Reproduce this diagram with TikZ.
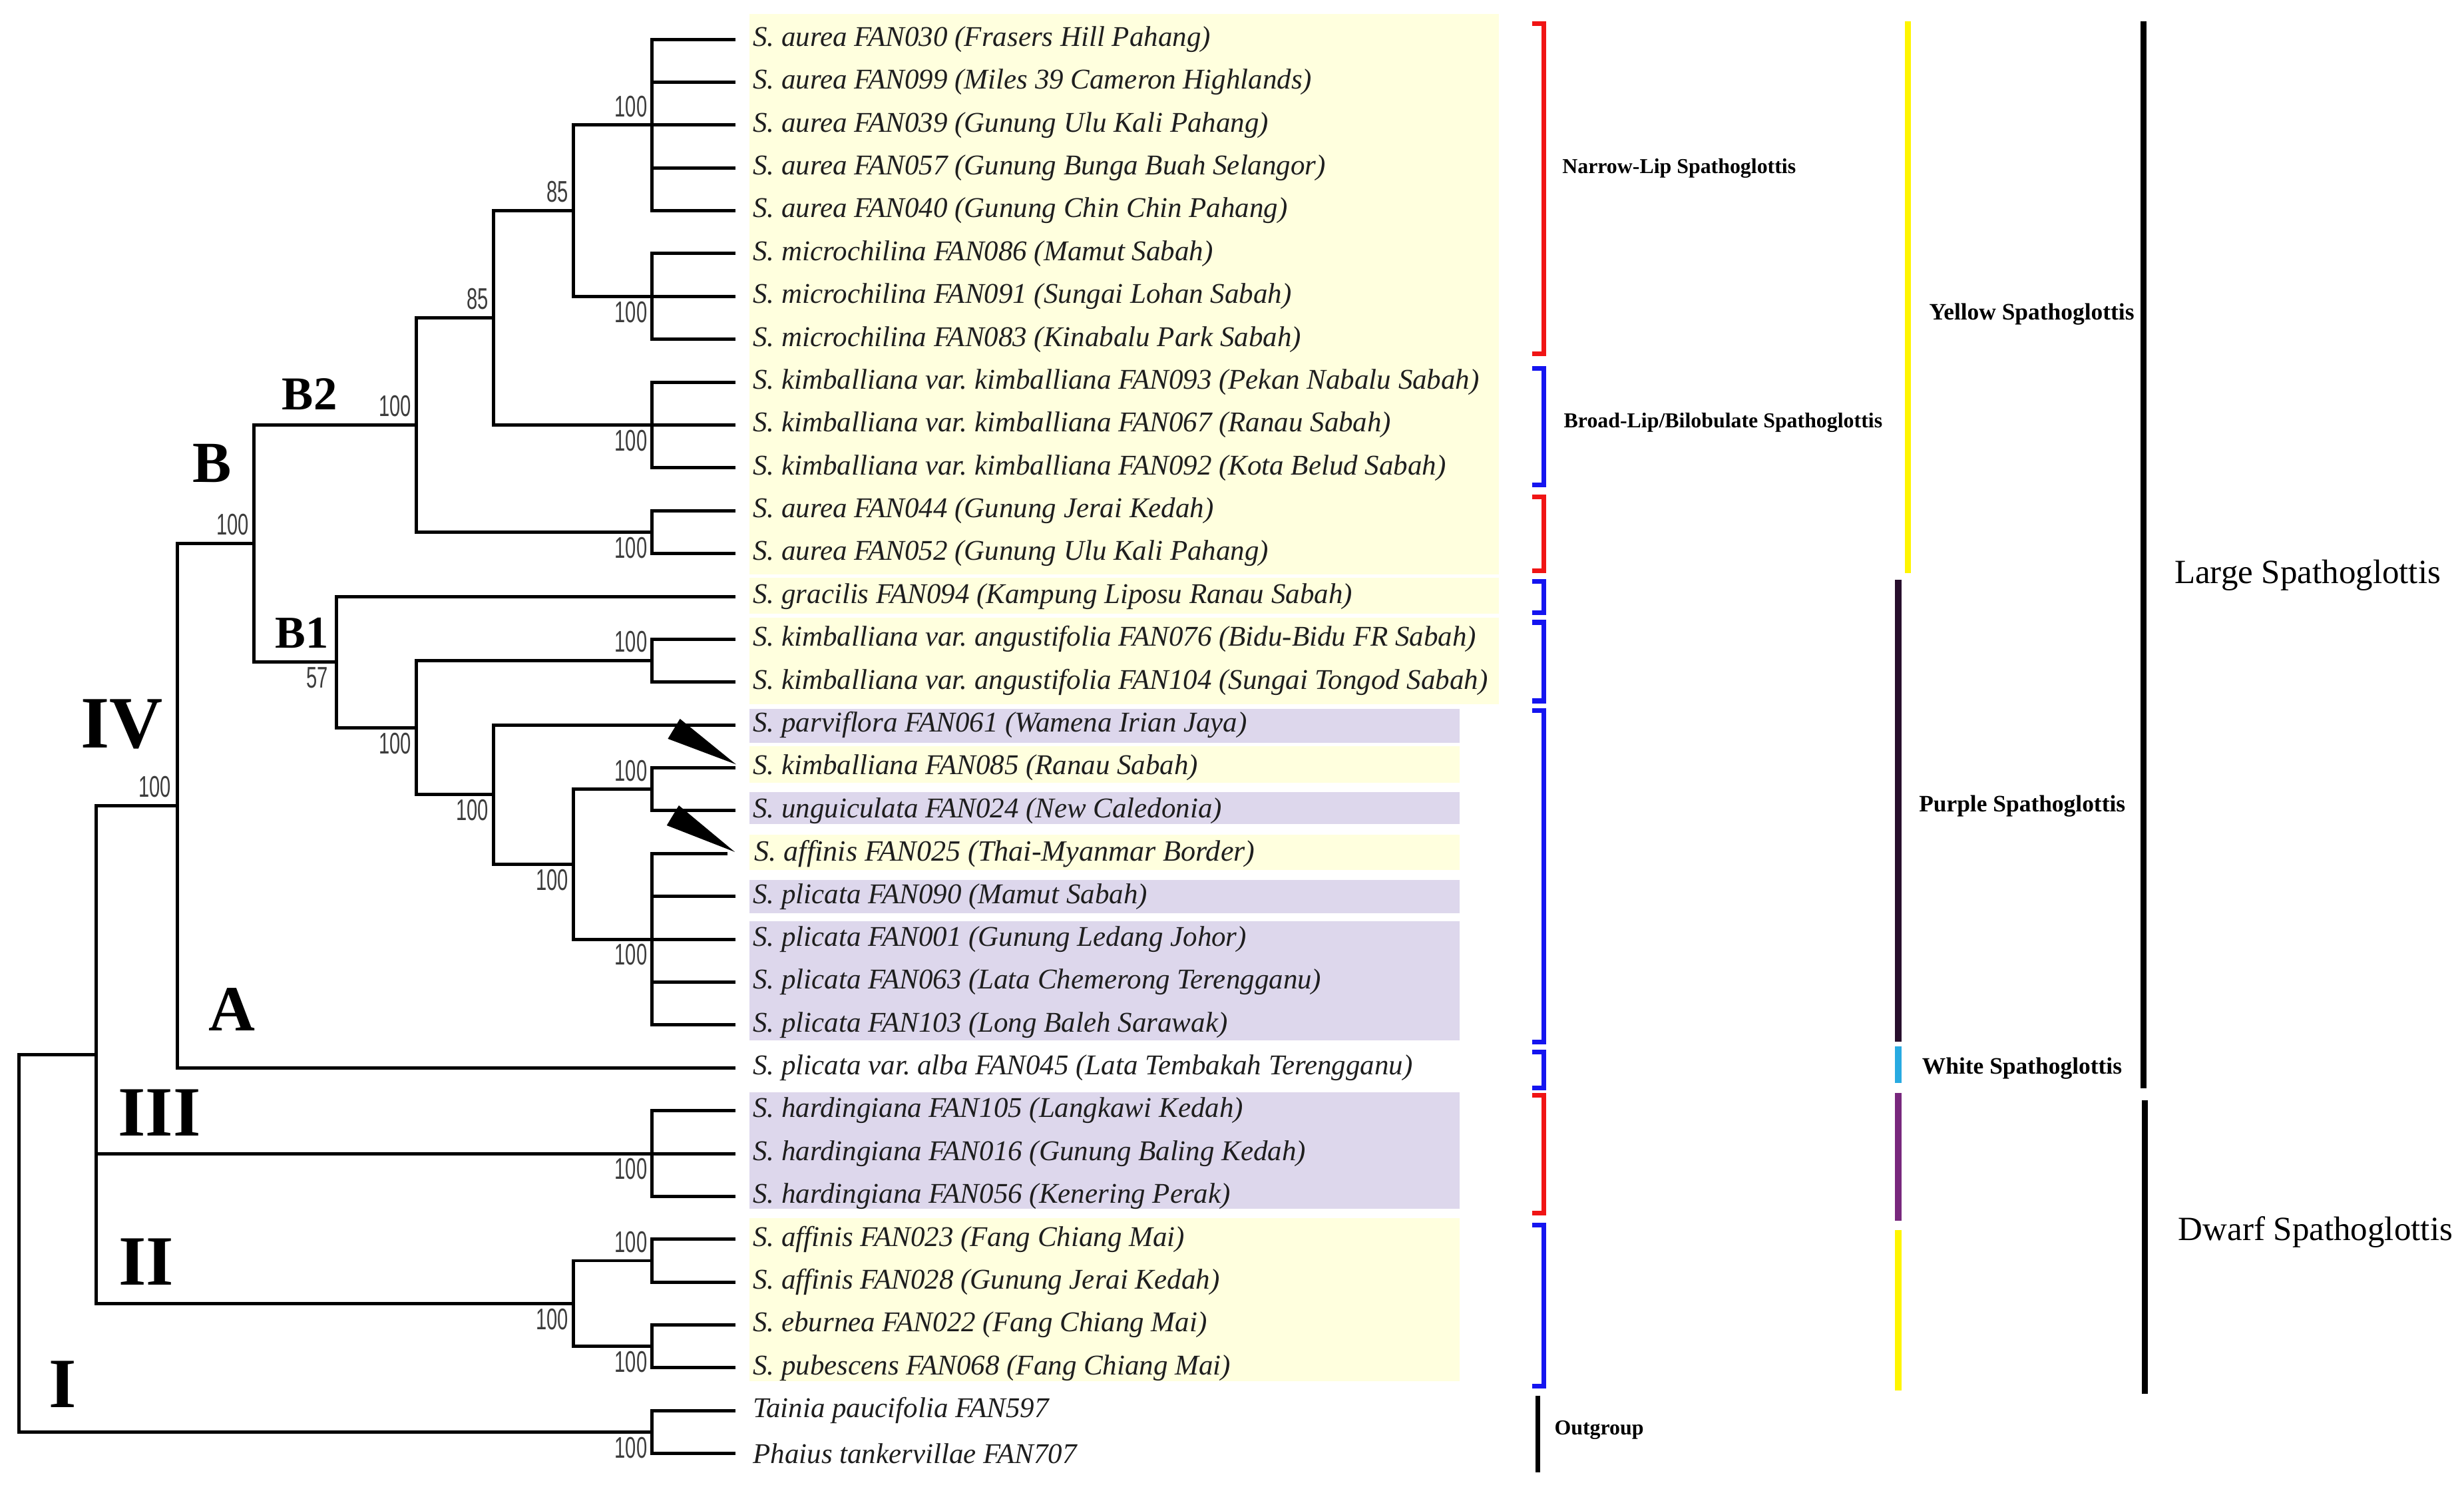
\documentclass[tikz,border=0pt]{standalone}
\usepackage{fontspec}
\setmainfont{Liberation Serif}
\newfontfamily\bsfont{Liberation Sans}[FakeStretch=0.65]
\usetikzlibrary{calc}
\definecolor{boxy}{RGB}{255,255,222}
\definecolor{boxp}{RGB}{221,215,236}
\definecolor{leafc}{RGB}{30,30,30}
\definecolor{bsc}{RGB}{60,60,60}
\definecolor{bred}{RGB}{240,20,20}
\definecolor{bblue}{RGB}{20,20,240}
\definecolor{lyel}{RGB}{255,245,0}
\definecolor{ldpur}{RGB}{40,15,45}
\definecolor{lcyan}{RGB}{40,170,225}
\definecolor{lpur}{RGB}{120,40,125}
\newcommand\RY[1]{25+(#1-1)*27.27}
\frenchspacing
\begin{document}
\begin{tikzpicture}[x=1pt,y=-1pt,
  branch/.style={line width=2.1pt, line cap=rect},
  leafname/.style={anchor=west, inner sep=0pt, text=leafc, font=\fontsize{18.2}{20}\selectfont\itshape},
  bs/.style={inner sep=0pt, text=bsc, font=\bsfont\fontsize{19}{19}\selectfont},
  bsa/.style={bs, anchor=south east},
  bsb/.style={bs, anchor=north east},
  clade/.style={inner sep=0pt, font=\bfseries\fontsize{#1}{#1}\selectfont},
  brk/.style={line width=3pt},
  cline/.style={line width=4pt},
  labs/.style={anchor=west, inner sep=0pt, font=\bfseries\fontsize{13.5}{15}\selectfont},
  labm/.style={anchor=west, inner sep=0pt, font=\bfseries\fontsize{15}{17}\selectfont},
  labl/.style={anchor=west, inner sep=0pt, font=\fontsize{21.6}{24}\selectfont}]
\useasboundingbox (0,0) rectangle (1568,945.8);
% background boxes
\fill[boxy] (477,9) rectangle (954,365.5);
\fill[boxy] (477,367.5) rectangle (954,390.5);
\fill[boxy] (477,393) rectangle (954,448);
\fill[boxp] (477,451) rectangle (929,472.5);
\fill[boxy] (477,475) rectangle (929,498);
\fill[boxp] (477,504) rectangle (929,524.5);
\fill[boxy] (477,531) rectangle (929,553.5);
\fill[boxp] (477,560) rectangle (929,581);
\fill[boxp] (477,586) rectangle (929,662);
\fill[boxp] (477,695) rectangle (929,769);
\fill[boxy] (477,775) rectangle (929,879);
% tips
\foreach \r in {1,...,34} {\coordinate (t\r) at (467,{\RY{\r}});}
\coordinate (t20) at (461.7,{\RY{20}});
% internal nodes
\coordinate (aur5) at (415,{\RY{3}});
\coordinate (mic) at (415,{\RY{7}});
\coordinate (up85) at (365,{\RY{5}});
\coordinate (kim) at (415,{\RY{10}});
\coordinate (lo85) at (314,{\RY{7.5}});
\coordinate (aur2) at (415,{\RY{12.5}});
\coordinate (B2) at (265,{\RY{10}});
\coordinate (ang) at (415,{\RY{15.5}});
\coordinate (pu1) at (415,{\RY{18.5}});
\coordinate (pl) at (415,{\RY{22}});
\coordinate (c365) at (365,{\RY{20.25}});
\coordinate (c314) at (314,{\RY{18.625}});
\coordinate (c265) at (265,{\RY{17.0625}});
\coordinate (B1) at (214,{\RY{15.53125}});
\coordinate (B) at (161.5,{\RY{12.765625}});
\coordinate (IV) at (113,{\RY{18.8828}});
\coordinate (III) at (415,{\RY{27}});
\coordinate (IIa) at (415,{\RY{29.5}});
\coordinate (IIb) at (415,{\RY{31.5}});
\coordinate (II) at (365,{\RY{30.5}});
\coordinate (x61) at (61,{\RY{24.6914}});
\coordinate (out) at (415,{\RY{33.5}});
\coordinate (root) at (12,{\RY{29.0957}});
% branches
\foreach \p/\c in {root/x61, root/out, x61/IV, x61/III, x61/II, IV/B, IV/t25,
  B/B2, B/B1, B2/lo85, B2/aur2, lo85/up85, lo85/kim, up85/aur5, up85/mic,
  aur5/t1, aur5/t2, aur5/t3, aur5/t4, aur5/t5, mic/t6, mic/t7, mic/t8,
  kim/t9, kim/t10, kim/t11, aur2/t12, aur2/t13,
  B1/t14, B1/c265, c265/ang, c265/c314, ang/t15, ang/t16,
  c314/t17, c314/c365, c365/pu1, c365/pl, pu1/t18, pu1/t19,
  pl/t20, pl/t21, pl/t22, pl/t23, pl/t24,
  III/t26, III/t27, III/t28, II/IIa, II/IIb, IIa/t29, IIa/t30, IIb/t31, IIb/t32,
  out/t33, out/t34}
  {\draw[branch] (\p) |- (\c);}
% bootstrap values
\node[bsa] (bs1) at ($(aur5)+(-3,-5)$) {100};
\node[bsa] (bs2) at ($(up85)+(-3,-5)$) {85};
\node[bsa] (bs3) at ($(lo85)+(-3,-5)$) {85};
\node[bsa] (bs4) at ($(B2)+(-3,-5)$) {100};
\node[bsa] (bs5) at ($(B)+(-3,-5)$) {100};
\node[bsa] (bs6) at ($(ang)+(-3,-5)$) {100};
\node[bsa] (bs7) at ($(pu1)+(-3,-5)$) {100};
\node[bsa] (bs8) at ($(IV)+(-4,-5)$) {100};
\node[bsa] (bs9) at ($(IIa)+(-3,-5)$) {100};
\node[bsb] (bs10) at ($(mic)+(-3,3)$) {100};
\node[bsb] (bs11) at ($(kim)+(-3,3)$) {100};
\node[bsb] (bs12) at ($(aur2)+(-3,3)$) {100};
\node[bsb] (bs13) at ($(B1)+(-5,3)$) {57};
\node[bsb] (bs14) at ($(c265)+(-3,3)$) {100};
\node[bsb] (bs15) at ($(c314)+(-3,3)$) {100};
\node[bsb] (bs16) at ($(c365)+(-3,3)$) {100};
\node[bsb] (bs17) at ($(pl)+(-3,3)$) {100};
\node[bsb] (bs18) at ($(III)+(-3,3)$) {100};
\node[bsb] (bs19) at ($(II)+(-3,3)$) {100};
\node[bsb] (bs20) at ($(IIb)+(-3,3)$) {100};
\node[bsb] (bs21) at ($(out)+(-3,3)$) {100};
% clade labels
\node[clade=30] (cB2) at (197,251) {B2};
\node[clade=37] (cB) at (135,295) {B};
\node[clade=29] (cB1) at (192,403) {B1};
\node[clade=47] (cIV) at (77.7,461) {IV};
\node[clade=41] (cA) at (147.5,642.5) {A};
\node[clade=45] (cIII) at (101.5,708) {III};
\node[clade=45] (cII) at (93,803) {II};
\node[clade=45] (cI) at (40,881) {I};
% arrows
\fill[black] (425,470.1) -- (432.7,457.4) -- (468.4,486.4) -- cycle;
\fill[black] (424.3,525.2) -- (432,512.5) -- (467.6,542.1) -- cycle;
% leaf names
\node[leafname] (l1) at (479,{\RY{1}}) {S. aurea FAN030 (Frasers Hill Pahang)};
\node[leafname] (l2) at (479,{\RY{2}}) {S. aurea FAN099 (Miles 39 Cameron Highlands)};
\node[leafname] (l3) at (479,{\RY{3}}) {S. aurea FAN039 (Gunung Ulu Kali Pahang)};
\node[leafname] (l4) at (479,{\RY{4}}) {S. aurea FAN057 (Gunung Bunga Buah Selangor)};
\node[leafname] (l5) at (479,{\RY{5}}) {S. aurea FAN040 (Gunung Chin Chin Pahang)};
\node[leafname] (l6) at (479,{\RY{6}}) {S. microchilina FAN086 (Mamut Sabah)};
\node[leafname] (l7) at (479,{\RY{7}}) {S. microchilina FAN091 (Sungai Lohan Sabah)};
\node[leafname] (l8) at (479,{\RY{8}}) {S. microchilina FAN083 (Kinabalu Park Sabah)};
\node[leafname] (l9) at (479,{\RY{9}}) {S. kimballiana var. kimballiana FAN093 (Pekan Nabalu Sabah)};
\node[leafname] (l10) at (479,{\RY{10}}) {S. kimballiana var. kimballiana FAN067 (Ranau Sabah)};
\node[leafname] (l11) at (479,{\RY{11}}) {S. kimballiana var. kimballiana FAN092 (Kota Belud Sabah)};
\node[leafname] (l12) at (479,{\RY{12}}) {S. aurea FAN044 (Gunung Jerai Kedah)};
\node[leafname] (l13) at (479,{\RY{13}}) {S. aurea FAN052 (Gunung Ulu Kali Pahang)};
\node[leafname] (l14) at (479,{\RY{14}}) {S. gracilis FAN094 (Kampung Liposu Ranau Sabah)};
\node[leafname] (l15) at (479,{\RY{15}}) {S. kimballiana var. angustifolia FAN076 (Bidu-Bidu FR Sabah)};
\node[leafname] (l16) at (479,{\RY{16}}) {S. kimballiana var. angustifolia FAN104 (Sungai Tongod Sabah)};
\node[leafname] (l17) at (479,{\RY{17}}) {S. parviflora FAN061 (Wamena Irian Jaya)};
\node[leafname] (l18) at (479,{\RY{18}}) {S. kimballiana FAN085 (Ranau Sabah)};
\node[leafname] (l19) at (479,{\RY{19}}) {S. unguiculata FAN024 (New Caledonia)};
\node[leafname, font=\fontsize{18.7}{20}\selectfont\itshape] (l20) at (480,{\RY{20}}) {S. affinis FAN025 (Thai-Myanmar Border)};
\node[leafname] (l21) at (479,{\RY{21}}) {S. plicata FAN090 (Mamut Sabah)};
\node[leafname] (l22) at (479,{\RY{22}}) {S. plicata FAN001 (Gunung Ledang Johor)};
\node[leafname] (l23) at (479,{\RY{23}}) {S. plicata FAN063 (Lata Chemerong Terengganu)};
\node[leafname] (l24) at (479,{\RY{24}}) {S. plicata FAN103 (Long Baleh Sarawak)};
\node[leafname] (l25) at (479,{\RY{25}}) {S. plicata var. alba FAN045 (Lata Tembakah Terengganu)};
\node[leafname] (l26) at (479,{\RY{26}}) {S. hardingiana FAN105 (Langkawi Kedah)};
\node[leafname] (l27) at (479,{\RY{27}}) {S. hardingiana FAN016 (Gunung Baling Kedah)};
\node[leafname] (l28) at (479,{\RY{28}}) {S. hardingiana FAN056 (Kenering Perak)};
\node[leafname] (l29) at (479,{\RY{29}}) {S. affinis FAN023 (Fang Chiang Mai)};
\node[leafname] (l30) at (479,{\RY{30}}) {S. affinis FAN028 (Gunung Jerai Kedah)};
\node[leafname] (l31) at (479,{\RY{31}}) {S. eburnea FAN022 (Fang Chiang Mai)};
\node[leafname] (l32) at (479,{\RY{32}}) {S. pubescens FAN068 (Fang Chiang Mai)};
\node[leafname] (l33) at (479,{\RY{33}}) {Tainia paucifolia FAN597};
\node[leafname] (l34) at (479,{\RY{34}}) {Phaius tankervillae FAN707};
% brackets
\foreach \a/\b/\c in {15/225/bred, 234.5/308.6/bblue, 316/363/bred, 370/390/bblue,
  396/446/bblue, 452/663/bblue, 669.5/692.4/bblue, 697/772/bred, 779.6/882/bblue}
  {\draw[brk, \c] (975,\a) -- (982.5,\a) -- (982.5,\b) -- (975,\b);}
\draw[brk, black] (978.5,888) -- (978.5,937);
% colour lines
\draw[cline, lyel] (1214,13.6) -- (1214,364.6);
\draw[cline, ldpur] (1208,369) -- (1208,663);
\draw[cline, lcyan] (1208,666) -- (1208,689);
\draw[cline, lpur] (1208,695.5) -- (1208,776.6);
\draw[cline, lyel] (1208,782.7) -- (1208,885);
\draw[cline, black] (1364,13.6) -- (1364,692.4);
\draw[cline, black] (1365,700) -- (1365,886.8);
% group labels
\node[labs] (narrow) at (994,107) {Narrow-Lip Spathoglottis};
\node[labs] (broad) at (995,269) {Broad-Lip/Bilobulate Spathoglottis};
\node[labs] (outg) at (989,910) {Outgroup};
\node[labm] (yellow) at (1227.5,200) {Yellow Spathoglottis};
\node[labm] (purple) at (1221,513) {Purple Spathoglottis};
\node[labm] (white) at (1223,680) {White Spathoglottis};
\node[labl] (large) at (1383.6,366) {Large Spathoglottis};
\node[labl] (dwarf) at (1386,784) {Dwarf Spathoglottis};
\end{tikzpicture}
\end{document}
